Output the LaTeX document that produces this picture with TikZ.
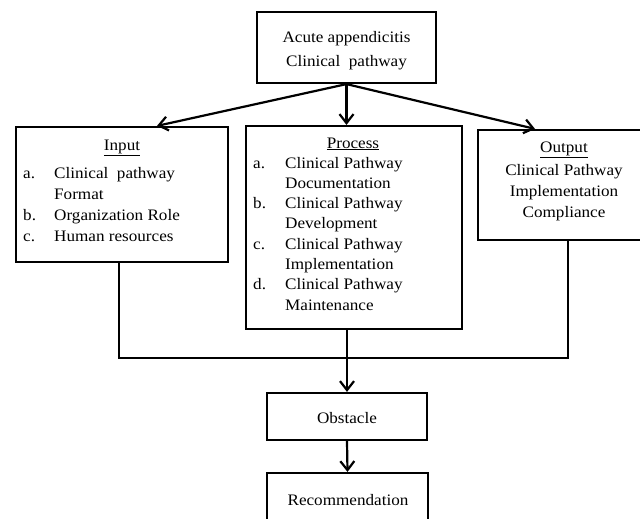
\documentclass[tikz,border=0pt]{standalone}
\usepackage{fontspec}
\setmainfont{Liberation Serif}[FakeStretch=1.07]
\usetikzlibrary{arrows.meta,calc}
\begin{document}
\begin{tikzpicture}[x=1pt,y=1pt,
  box/.style={draw,line width=2.2pt,inner sep=0pt},
  txt/.style={inner sep=0pt,anchor=base,font=\fontsize{16}{21}\selectfont},
  lst/.style={inner sep=0pt,anchor=base west},
  conn/.style={line width=2.2pt},
  arr/.style={conn,-{Straight Barb[length=9pt,width=14pt]}}]
\useasboundingbox (0,0) rectangle (640,-519);
% boxes
\node[box,minimum width=179pt,minimum height=71pt] (top) at (346.5,-47.5) {};
\node[box,minimum width=212pt,minimum height=135pt] (input) at (122,-194.5) {};
\node[box,minimum width=216pt,minimum height=203pt] (process) at (354,-227.5) {};
\node[box,minimum width=172pt,minimum height=110pt] (output) at (564,-185) {};
\node[box,minimum width=160pt,minimum height=47pt] (obstacle) at (347,-416.5) {};
\node[box,minimum width=161pt,minimum height=72pt] (rec) at (347.5,-509) {};
% texts
\node[txt] (toptxt) at (346.5,-43) {\begin{tabular}[t]{@{}c@{}}Acute appendicitis\\[3pt] Clinical\ \ pathway\end{tabular}};
\node[txt] (inhead) at (122,-150) {\underline{Input}};
\node[txt,lst] (inlist) at (23,-178) {\begin{tabular}[t]{@{}p{31pt}@{}l@{}}
a.& Clinical\ \ pathway\\
  & Format\\
b.& Organization Role\\
c.& Human resources\end{tabular}};
\node[txt] (prhead) at (353,-148) {\underline{Process}};
\node[txt,lst,font=\fontsize{16}{20.3}\selectfont] (prlist) at (253,-168) {\begin{tabular}[t]{@{}p{32pt}@{}l@{}}
a.& Clinical Pathway\\
  & Documentation\\
b.& Clinical Pathway\\
  & Development\\
c.& Clinical Pathway\\
  & Implementation\\
d.& Clinical Pathway\\
  & Maintenance\end{tabular}};
\node[txt] (outhead) at (564,-152) {\underline{Output}};
\node[txt] (outtxt) at (564,-175) {\begin{tabular}[t]{@{}c@{}}Clinical Pathway\\ Implementation\\ Compliance\end{tabular}};
\node[txt] (obtxt) at (347,-423) {Obstacle};
\node[txt] (rectxt) at (348,-505) {Recommendation};
% connectors
\draw[arr] (top.south) -- ([xshift=35pt]input.north);
\draw[arr] (top.south) -- (top.south |- process.north);
\draw[arr] (top.south) -- ([xshift=-29pt]output.north);
\coordinate (junc) at (347,-358);
\draw[conn] ([xshift=-3pt]input.south) |- (junc) -| ([xshift=4pt]output.south);
\draw[arr] (process.south -| obstacle.north) -- (obstacle.north);
\draw[arr] (obstacle.south) -- (rec.north);
\end{tikzpicture}
\end{document}
